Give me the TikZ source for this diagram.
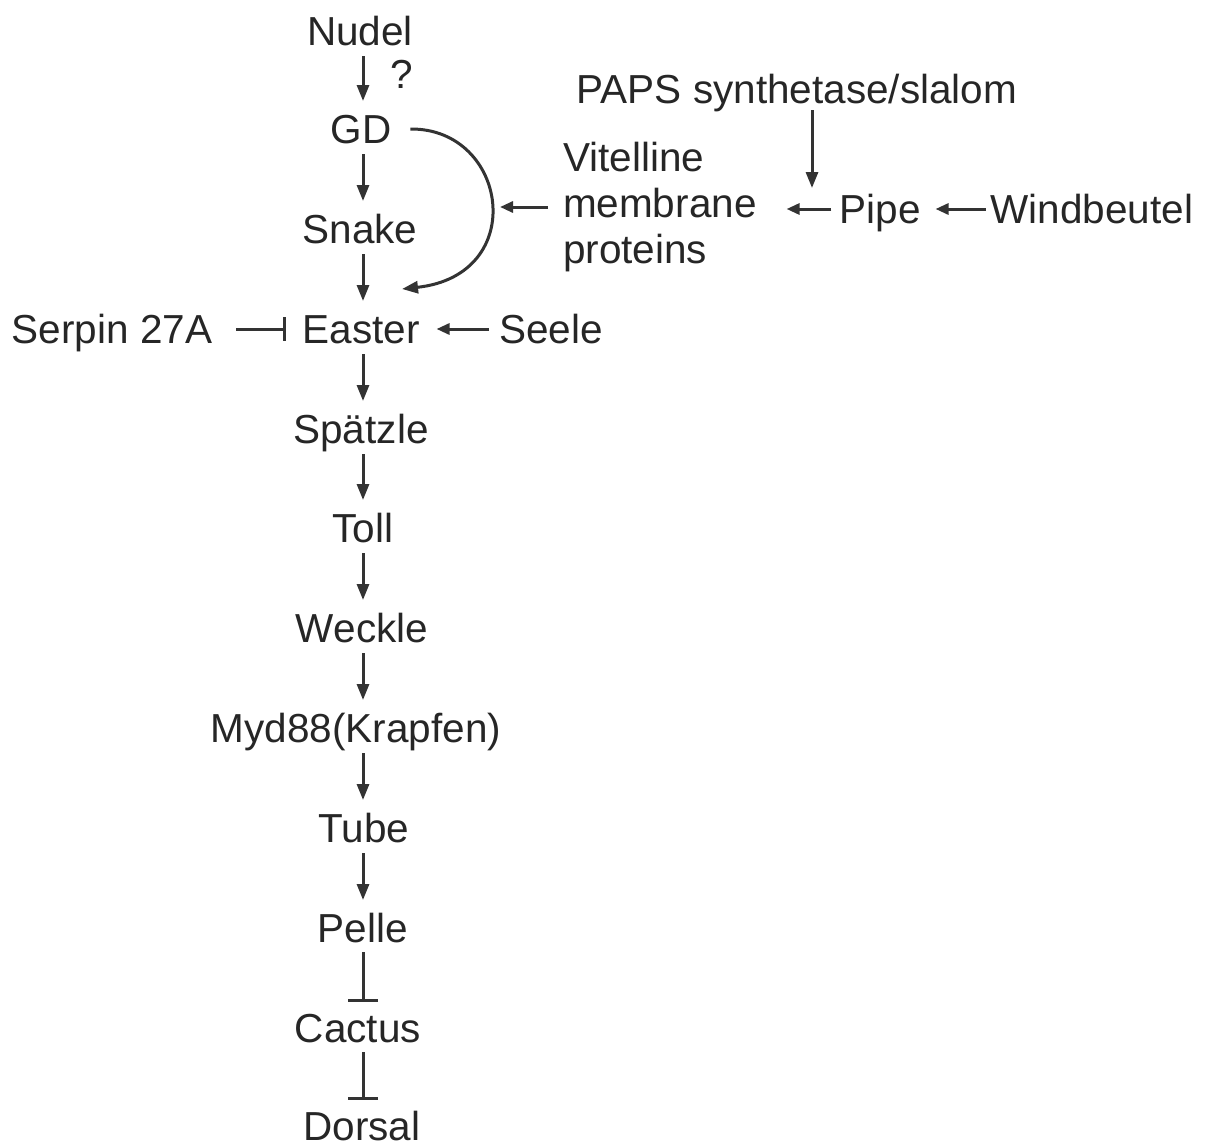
\documentclass[tikz,border=0pt]{standalone}
\usepackage{fontspec}
\setmainfont{Liberation Sans}
\usetikzlibrary{arrows.meta}
\begin{document}
\begin{tikzpicture}[x=1pt,y=-1pt,
  lab/.style={font=\fontsize{40.5pt}{46pt}\selectfont, text=black!85, inner sep=0pt, outer sep=0pt, text height=31pt, text depth=3pt, anchor=base},
  multilab/.style={font=\fontsize{40.5pt}{46pt}\selectfont, text=black!85, inner sep=0pt, outer sep=0pt, align=left},
  act/.style={draw=black!80, line width=3pt, -{Triangle[length=16pt,width=12pt]}},
  hact/.style={draw=black!80, line width=3pt, -{Triangle[length=13pt,width=11pt]}},
  inh/.style={draw=black!80, line width=3pt, -{Bar[width=30pt]}},
  hinh/.style={draw=black!80, line width=3pt, -{Bar[width=24pt]}}]
\useasboundingbox (0,0) rectangle (1207,1146);

% main chain
\node[lab] (nudel)   at (360,45)   {Nudel};
\node[lab] (q)       at (402,88)   {?};
\node[lab] (gd)      at (361,143)  {GD};
\node[lab] (snake)   at (360,243)  {Snake};
\node[lab] (easter)  at (361,343)  {Easter};
\node[lab] (spatzle) at (361,443)  {Spätzle};
\node[lab] (toll)    at (363,542)  {Toll};
\node[lab] (weckle)  at (362,642)  {Weckle};
\node[lab] (myd)     at (356,742)  {Myd88(Krapfen)};
\node[lab] (tube)    at (364,842)  {Tube};
\node[lab] (pelle)   at (363,942)  {Pelle};
\node[lab] (cactus)  at (358,1042) {Cactus};
\node[lab] (dorsal)  at (362,1140) {Dorsal};

% side nodes
\node[lab] (serpin) at (112,343) {Serpin 27A};
\node[lab] (seele)  at (551,343) {Seele};
\node[lab] (paps)   at (797,103) {PAPS synthetase/slalom};
\node[lab] (pipe)   at (880,223) {Pipe};
\node[lab] (wind)   at (1092,223) {Windbeutel};
\node[multilab, anchor=west] (vmp) at (563,207) {Vitelline\\membrane\\proteins};

\coordinate (spine) at (363,0);
\coordinate (junc) at (812,208);
\coordinate (hit) at (500,207);

% vertical chain arrows
\foreach \a/\b in {nudel/gd, gd/snake, snake/easter, easter/spatzle, spatzle/toll, toll/weckle, weckle/myd, myd/tube, tube/pelle}
  \draw[act, shorten <=8pt, shorten >=11pt] (\a.south -| spine) -- (\b.north -| spine);
\foreach \a/\b in {pelle/cactus, cactus/dorsal}
  \draw[inh, shorten <=7pt, shorten >=9pt] (\a.south -| spine) -- (\b.north -| spine);

% GD -> Easter curve
\draw[act] ([xshift=19pt]gd.east) .. controls (508,128) and (530,275) .. ([xshift=-17.5pt,yshift=23pt]easter.north east);

% side connectors
\draw[hact, shorten <=10pt, shorten >=17pt] (seele.west) -- (easter.east);
\draw[hinh, shorten <=24pt, shorten >=16pt] (serpin.east) -- (easter.west);
\draw[hact, shorten <=15pt] (vmp.west) -- (hit);
\draw[hact, shorten <=8pt, shorten >=30pt] (pipe.west) -- (pipe.west -| vmp.east);
\draw[act, shorten <=4pt, shorten >=20pt] (paps.south -| junc) -- (junc);
\draw[hact, shorten <=5pt, shorten >=15pt] (wind.west) -- (pipe.east);
\end{tikzpicture}
\end{document}
